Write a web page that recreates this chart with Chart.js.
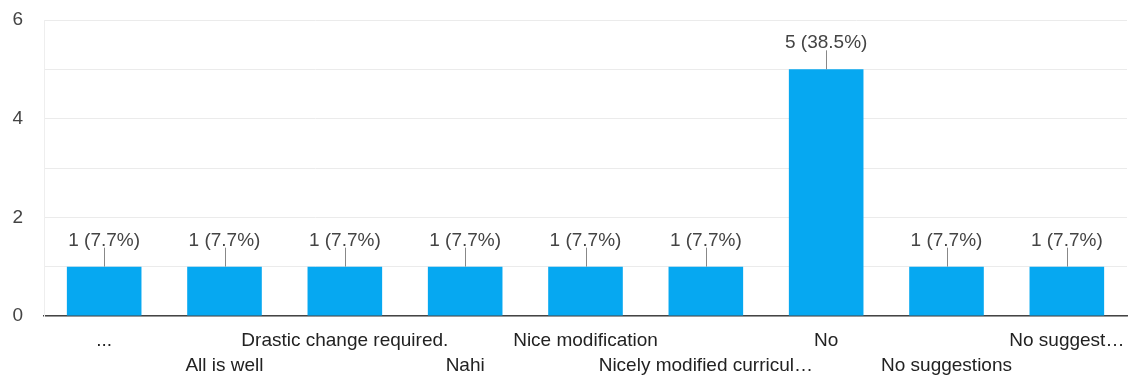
<!DOCTYPE html>
<html lang="en">
<head>
    <meta charset="UTF-8">
    <title>Responses</title>
    <script src="https://cdn.jsdelivr.net/npm/chart.js"></script>
    <style>
        html, body {
            margin: 0;
            padding: 0;
            background: #ffffff;
        }
        .chart-wrap {
            position: relative;
            width: 1130px;
            height: 377px;
        }
    </style>
</head>
<body>

<div class="chart-wrap">
    <canvas id="responsesChart"></canvas>
</div>

<script>
    // data
    const categories = ['...', 'All is well', 'Drastic change required.', 'Nahi', 'Nice modification',
        'Nicely modified curricul\u2026', 'No', 'No suggestions', 'No suggest\u2026'];
    const counts = [1, 1, 1, 1, 1, 1, 5, 1, 1];
    const percents = ['7.7%', '7.7%', '7.7%', '7.7%', '7.7%', '7.7%', '38.5%', '7.7%', '7.7%'];
    const yTicks = [0, 2, 4, 6];

    const fontFamily = '"Liberation Sans", Arial, sans-serif';

    // value labels with a short leader line above each bar
    const barLabels = {
        id: 'barLabels',
        afterDatasetsDraw(chart) {
            const ctx = chart.ctx;
            const meta = chart.getDatasetMeta(0);
            ctx.save();
            ctx.font = '19px ' + fontFamily;
            ctx.textAlign = 'center';
            ctx.textBaseline = 'alphabetic';
            meta.data.forEach((bar, i) => {
                const x = Math.round(bar.x) + 0.5;
                ctx.strokeStyle = '#888888';
                ctx.lineWidth = 1;
                ctx.beginPath();
                ctx.moveTo(x, bar.y);
                ctx.lineTo(x, bar.y - 19);
                ctx.stroke();
                ctx.fillStyle = '#444444';
                ctx.fillText(counts[i] + ' (' + percents[i] + ')', bar.x, bar.y - 21);
            });
            ctx.restore();
        }
    };

    const ctx1 = document.getElementById('responsesChart').getContext('2d');
    const responsesChart = new Chart(ctx1, {
        type: 'bar',
        data: {
            labels: categories,
            datasets: [{
                data: counts,
                backgroundColor: '#06a8f1',
                categoryPercentage: 1.0,
                barPercentage: 0.62
            }]
        },
        options: {
            responsive: true,
            maintainAspectRatio: false,
            animation: false,
            layout: {
                padding: { top: 20, right: 3, left: 0, bottom: 0 }
            },
            plugins: {
                legend: { display: false },
                tooltip: { enabled: false }
            },
            scales: {
                x: {
                    grid: { display: false, drawTicks: false },
                    border: { color: '#444444', width: 1.5 },
                    ticks: {
                        autoSkip: false,
                        maxRotation: 0,
                        minRotation: 0,
                        padding: 12,
                        color: '#222222',
                        font: { family: fontFamily, size: 19, lineHeight: 1.32 },
                        callback: function (value, index) {
                            const label = categories[index];
                            return index % 2 ? ['', label] : label;
                        }
                    },
                    afterFit(scale) {
                        scale.height = 61;
                        scale.paddingLeft = 0;
                        scale.paddingRight = 0;
                    }
                },
                y: {
                    min: 0,
                    max: 6,
                    grid: { color: '#ebebeb', drawTicks: false },
                    border: { color: '#eeeeee' },
                    ticks: {
                        stepSize: 1,
                        padding: 21,
                        color: '#444444',
                        font: { family: fontFamily, size: 19 },
                        callback: function (value) {
                            return yTicks.includes(value) ? value : '';
                        }
                    },
                    afterFit(scale) {
                        scale.width = 44;
                        scale.paddingTop = 0;
                        scale.paddingBottom = 0;
                    }
                }
            }
        },
        plugins: [barLabels]
    });
</script>

</body>
</html>
